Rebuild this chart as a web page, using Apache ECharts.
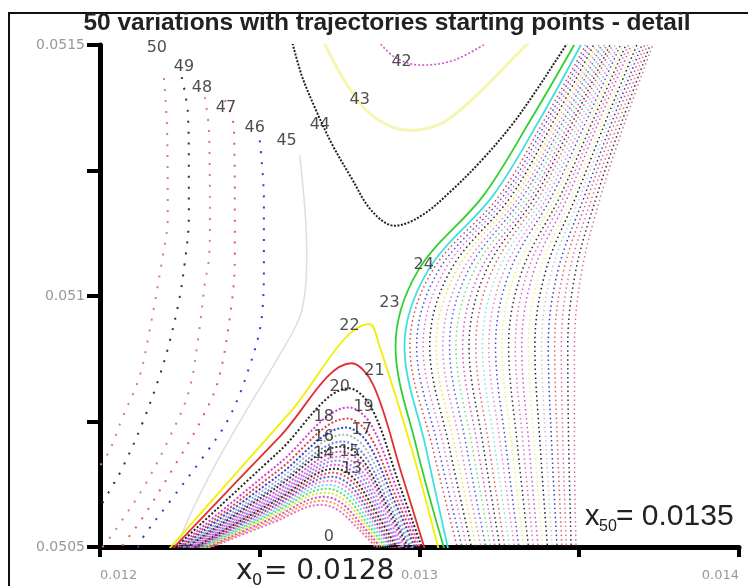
<!DOCTYPE html>
<html><head><meta charset="utf-8">
<script src="https://cdn.jsdelivr.net/npm/echarts@6/dist/echarts.min.js"></script>
<style>html,body{margin:0;padding:0;background:#fff}#c{width:748px;height:586px}</style>
</head><body><div id="c"></div>
<script>
// ---------- data ----------
const xTickLabels = [0.012, 0.013, 0.014];
const yTickLabels = [0.0505, 0.051, 0.0515];

// trajectories 0..22 (lower arches)
const archCurves = [
 [[0.01233,0.050495],[0.012546,0.05055],[0.01269,0.050584],[0.012744,0.050574],[0.012812,0.050534],[0.01287,0.050495]],
 [[0.012325,0.050495],[0.012547,0.050555],[0.012695,0.050592],[0.01275,0.050581],[0.012819,0.050537],[0.012877,0.050495]],
 [[0.01232,0.050495],[0.012548,0.05056],[0.0127,0.0506],[0.012755,0.050588],[0.012825,0.05054],[0.012884,0.050495]],
 [[0.012315,0.050495],[0.012549,0.050565],[0.012705,0.050608],[0.012761,0.050595],[0.012832,0.050543],[0.012891,0.050495]],
 [[0.01231,0.050495],[0.01255,0.05057],[0.01271,0.050616],[0.012766,0.050602],[0.012838,0.050546],[0.012898,0.050495]],
 [[0.012305,0.050495],[0.012551,0.050574],[0.012715,0.050624],[0.012772,0.050609],[0.012844,0.05055],[0.012905,0.050495]],
 [[0.0123,0.050495],[0.012552,0.050579],[0.01272,0.050632],[0.012778,0.050616],[0.012851,0.050553],[0.012912,0.050495]],
 [[0.012295,0.050495],[0.012553,0.050584],[0.012725,0.05064],[0.012783,0.050623],[0.012857,0.050556],[0.012919,0.050495]],
 [[0.01229,0.050495],[0.012554,0.050589],[0.01273,0.050648],[0.012789,0.05063],[0.012863,0.050559],[0.012926,0.050495]],
 [[0.012285,0.050495],[0.012555,0.050594],[0.012735,0.050656],[0.012794,0.050637],[0.01287,0.050562],[0.012933,0.050495]],
 [[0.01228,0.050495],[0.012556,0.050598],[0.01274,0.050664],[0.0128,0.050644],[0.012876,0.050566],[0.01294,0.050495]],
 [[0.012275,0.050495],[0.012557,0.050603],[0.012745,0.050672],[0.012806,0.050651],[0.012882,0.050569],[0.012947,0.050495]],
 [[0.01227,0.050495],[0.012558,0.050608],[0.01275,0.05068],[0.012811,0.050658],[0.012889,0.050572],[0.012954,0.050495]],
 [[0.012265,0.050495],[0.012559,0.050614],[0.012755,0.05069],[0.012817,0.050667],[0.012895,0.050576],[0.012961,0.050495]],
 [[0.01226,0.050495],[0.012557,0.05062],[0.012755,0.0507],[0.012819,0.050676],[0.0129,0.05058],[0.012968,0.050495]],
 [[0.012255,0.050495],[0.012558,0.050626],[0.01276,0.05071],[0.012825,0.050685],[0.012906,0.050584],[0.012975,0.050495]],
 [[0.01225,0.050495],[0.012559,0.050634],[0.012765,0.050724],[0.01283,0.050697],[0.012913,0.05059],[0.012982,0.050495]],
 [[0.012245,0.050495],[0.01256,0.050643],[0.01277,0.050738],[0.012836,0.050709],[0.012919,0.050595],[0.012989,0.050495]],
 [[0.01224,0.050495],[0.012561,0.050654],[0.012775,0.050756],[0.012841,0.050725],[0.012925,0.050602],[0.012996,0.050495]],
 [[0.012235,0.050495],[0.012562,0.050667],[0.01278,0.050778],[0.012847,0.050745],[0.012932,0.050611],[0.013003,0.050495]],
 [[0.01223,0.050495],[0.01256,0.05069],[0.01278,0.050816],[0.012849,0.050778],[0.012936,0.050626],[0.01301,0.050495]],
 [[0.012225,0.050495],[0.012563,0.05072],[0.012788,0.050866],[0.012856,0.050822],[0.012944,0.050646],[0.013017,0.050495]],
 [[0.012215,0.050495],[0.012592,0.050766],[0.012844,0.050944],[0.012873,0.050904],[0.012975,0.050696],[0.01306,0.050495]]
];

// trajectories 23..50 rising through the right-hand fan: x read at these y levels
const fanLevels = [0.050495, 0.0507, 0.0509, 0.05105, 0.0512, 0.05135, 0.0515];
const fanX = [
 [0.013078,0.01299,0.012925,0.012995,0.0132,0.013347,0.013484],
 [0.01309,0.013019,0.012953,0.013026,0.01323,0.013375,0.013505],
 [0.01312,0.01304,0.01297,0.01304,0.01325,0.01339,0.01352],
 [0.013135,0.013058,0.012991,0.013059,0.013263,0.0134,0.013528],
 [0.01315,0.013076,0.013011,0.013077,0.013275,0.01341,0.013537],
 [0.013164,0.013093,0.013032,0.013096,0.013288,0.013421,0.013545],
 [0.013179,0.013111,0.013052,0.013115,0.013301,0.013431,0.013554],
 [0.013194,0.013129,0.013073,0.013134,0.013314,0.013441,0.013562],
 [0.013209,0.013147,0.013094,0.013152,0.013326,0.013451,0.01357],
 [0.013224,0.013165,0.013114,0.013171,0.013339,0.013461,0.013579],
 [0.013238,0.013182,0.013135,0.01319,0.013352,0.013472,0.013587],
 [0.013253,0.0132,0.013155,0.013208,0.013364,0.013482,0.013596],
 [0.013268,0.013218,0.013176,0.013227,0.013377,0.013492,0.013604],
 [0.013283,0.013236,0.013197,0.013246,0.01339,0.013502,0.013612],
 [0.013298,0.013254,0.013217,0.013264,0.013402,0.013512,0.013621],
 [0.013312,0.013271,0.013238,0.013283,0.013415,0.013523,0.013629],
 [0.013327,0.013289,0.013258,0.013302,0.013428,0.013533,0.013638],
 [0.013342,0.013307,0.013279,0.013321,0.013441,0.013543,0.013646],
 [0.013357,0.013325,0.0133,0.013339,0.013453,0.013553,0.013654],
 [0.013372,0.013343,0.01332,0.013358,0.013466,0.013563,0.013663],
 [0.013386,0.01336,0.013341,0.013377,0.013479,0.013574,0.013671],
 [0.013401,0.013378,0.013361,0.013395,0.013491,0.013584,0.01368],
 [0.013416,0.013396,0.013382,0.013414,0.013504,0.013594,0.013688],
 [0.013431,0.013414,0.013403,0.013433,0.013517,0.013604,0.013696],
 [0.013446,0.013432,0.013423,0.013451,0.013529,0.013614,0.013705],
 [0.01346,0.013449,0.013444,0.01347,0.013542,0.013625,0.013713],
 [0.013475,0.013467,0.013464,0.013489,0.013555,0.013635,0.013722],
 [0.01349,0.013485,0.013485,0.013508,0.013568,0.013645,0.01373]
];

// re-entering parts of trajectories 42..50 (top / left)
const upperIds = [42, 43, 44, 45, 46, 47, 48, 49, 50];
const upperCurves = [
 [[0.012863,0.051514],[0.012922,0.051476],[0.013006,0.05146],[0.013109,0.05147],[0.013225,0.05151]],
 [[0.012694,0.051514],[0.012778,0.051416],[0.012859,0.051356],[0.012966,0.05133],[0.013069,0.051344],[0.013172,0.051396],[0.013297,0.051476],[0.013356,0.051514]],
 [[0.0126,0.05151],[0.012631,0.05144],[0.012672,0.051376],[0.012725,0.051304],[0.012788,0.051234],[0.01285,0.05117],[0.012922,0.05114],[0.013006,0.05116],[0.0131,0.05121],[0.013194,0.05127],[0.013288,0.05134],[0.013366,0.05141],[0.013428,0.05147],[0.013469,0.05151]],
 [[0.012625,0.05128],[0.012647,0.05109],[0.012631,0.05097],[0.012569,0.05089],[0.012475,0.05079],[0.012366,0.05067],[0.012272,0.05055],[0.012241,0.050494]],
 [[0.0125,0.05131],[0.012513,0.05119],[0.012513,0.05107],[0.012506,0.050956],[0.012466,0.050856],[0.012403,0.050756],[0.012319,0.050676],[0.012225,0.050596],[0.012131,0.050516],[0.012116,0.050494]],
 [[0.012391,0.05139],[0.012419,0.051336],[0.012422,0.051156],[0.012422,0.051084],[0.012413,0.05099],[0.012372,0.050836],[0.012319,0.050756],[0.012247,0.050676],[0.012131,0.050556],[0.012078,0.05051],[0.012059,0.050494]],
 [[0.012328,0.051396],[0.012341,0.05133],[0.012344,0.051156],[0.012341,0.051076],[0.012328,0.051024],[0.012309,0.050924],[0.012278,0.05081],[0.012216,0.050716],[0.012141,0.050624],[0.012059,0.050544],[0.012028,0.050516],[0.011995,0.05049]],
 [[0.012256,0.051436],[0.012275,0.051364],[0.012278,0.051264],[0.012278,0.051156],[0.012266,0.05107],[0.012247,0.05099],[0.012216,0.050904],[0.012184,0.050836],[0.012131,0.050744],[0.012069,0.050656],[0.012028,0.05061],[0.011991,0.05057]],
 [[0.0122,0.051434],[0.01221,0.05133],[0.012212,0.051156],[0.012194,0.05107],[0.012153,0.050924],[0.012122,0.050836],[0.012069,0.050756],[0.012028,0.05069],[0.011975,0.05064]]
];

const curveColors = [
 '#e86ac8','#f0a050','#d050d0','#e8e040','#60e060','#60e0e0','#f080c0','#5060e0','#e05050','#303030',
 '#d060e0','#8090f0','#e878c8','#c050d0','#333333','#7080e0','#b0b0b0','#3040d0','#e04040','#d040d0',
 '#222222','#e03030','#f0f000','#30d030','#40e0e0','#e04040','#4050e0','#e070d0','#222222','#f0e040',
 '#e080c0','#5060e0','#70e070','#d050d0','#303030','#e06060','#80e0e0','#e880d0','#4050d0','#f0f060',
 '#333333','#e070c0','#d050d0','#f0f080','#222222','#c8c8c8','#3040c0','#e06060','#e070b0','#333333',
 '#e070b0'
];

const labelTexts = ['0','13','14','15','16','17','18','19','20','21','22','23','24','42','43','44','45','46','47','48','49','50'];
const labelPoints = [
 [0.012716,0.05052],[0.012788,0.050656],[0.0127,0.050686],[0.012781,0.05069],[0.0127,0.05072],[0.012819,0.050734],
 [0.0127,0.05076],[0.012825,0.05078],[0.01275,0.05082],[0.012859,0.05085],[0.012781,0.05094],[0.012906,0.050986],
 [0.013013,0.051062],[0.012944,0.051466],[0.012813,0.05139],[0.012688,0.05134],[0.012584,0.05131],[0.012484,0.051334],
 [0.012394,0.051374],[0.012319,0.051414],[0.012263,0.051456],[0.012178,0.051494]
];

// ---------- styles ----------
function styleFor(id, part) {
  const c = curveColors[id];
  if (id === 21 || id === 22 || id === 23 || id === 24) return {color: c, width: 1.8, type: 'solid'};
  if (part === 'upper') {
    if (id === 42) return {color: c, width: 1.6, type: [2, 2]};
    if (id === 43) return {color: c, width: 3, type: 'solid', opacity: 0.6};
    if (id === 44) return {color: c, width: 2, type: [2, 1.5]};
    if (id === 45) return {color: c, width: 1.5, type: 'solid', opacity: 0.6};
    return {color: c, width: 2, type: [2, 9]};
  }
  if (part === 'arch') return {color: c, width: 2, type: [2, 2]};
  return {color: c, width: 1.5, type: [1.5, 3]};
}

const series = [];
archCurves.forEach((pts, i) => {
  series.push({type: 'line', data: pts, smooth: 0.35, symbol: 'none', silent: true, clip: true,
    lineStyle: styleFor(i, 'arch'), z: 3});
});
fanX.forEach((xs, j) => {
  const id = 23 + j;
  series.push({type: 'line', data: xs.map((x, k) => [x, fanLevels[k]]), smooth: 0.35, symbol: 'none',
    silent: true, clip: true, lineStyle: styleFor(id, 'fan'), z: 2});
});
upperCurves.forEach((pts, j) => {
  const id = upperIds[j];
  series.push({type: 'line', data: pts, smooth: 0.35, symbol: 'none', silent: true, clip: true,
    lineStyle: styleFor(id, 'upper'), z: 2});
});

const labelFont = '"DejaVu Sans", Verdana, sans-serif';
const fontFam = '"Liberation Sans", Arial, sans-serif';
series.push({
  type: 'scatter', data: labelPoints, symbolSize: 1, itemStyle: {color: 'rgba(0,0,0,0)'}, silent: true, z: 10,
  label: {show: true, position: 'inside', color: '#222', fontSize: 16, fontFamily: labelFont,
    formatter: p => labelTexts[p.dataIndex]}
});

function txt(x, y, text, font) {
  return {type: 'text', silent: true, z: 100, x: x, y: y,
    style: {text: text, fill: '#222', font: font, align: 'left', verticalAlign: 'middle',
      textAlign: 'left', textVerticalAlign: 'middle'}};
}

const chart = echarts.init(document.getElementById('c'), null, {renderer: 'canvas'});
chart.setOption({
  animation: false,
  backgroundColor: '#fff',
  grid: {left: 100, right: 9, top: 45, bottom: 39},
  xAxis: {
    type: 'value', min: 0.012, max: 0.014, interval: 0.0005,
    axisLine: {onZero: false, lineStyle: {color: '#000', width: 5}},
    axisTick: {length: 10, lineStyle: {color: '#000', width: 4}},
    splitLine: {show: false},
    axisLabel: {color: '#999', fontSize: 13, fontFamily: labelFont, margin: 22,
      alignMinLabel: 'left', alignMaxLabel: 'right',
      formatter: v => {
        const hit = xTickLabels.find(t => Math.abs(t - v) < 1e-9);
        return hit !== undefined ? String(hit) : '';
      }}
  },
  yAxis: {
    type: 'value', min: 0.0505, max: 0.0515, interval: 0.00025,
    axisLine: {onZero: false, lineStyle: {color: '#000', width: 5}},
    axisTick: {length: 13, lineStyle: {color: '#000', width: 4}},
    splitLine: {show: false},
    axisLabel: {color: '#999', fontSize: 14, fontFamily: labelFont, margin: 15,
      formatter: v => {
        const hit = yTickLabels.find(t => Math.abs(t - v) < 1e-9);
        return hit !== undefined ? String(hit) : '';
      }}
  },
  series: series,
  graphic: [
    {type: 'rect', silent: true, z: 100, shape: {x: 9, y: 13, width: 800, height: 640},
      style: {fill: 'none', stroke: '#111', lineWidth: 2}},
    {type: 'text', silent: true, z: 100, x: 387, y: 23,
      style: {text: '50 variations with trajectories starting points - detail', fill: '#222',
        font: 'bold 24.5px ' + fontFam, align: 'center', verticalAlign: 'middle',
        textAlign: 'center', textVerticalAlign: 'middle'}},
    txt(236, 572, 'x', '28px ' + labelFont),
    txt(252, 581, '0', '16px ' + labelFont),
    txt(264, 572, '= 0.0128', '28px ' + labelFont),
    txt(585, 517, 'x', '29px ' + fontFam),
    txt(599, 527, '50', '16px ' + fontFam),
    txt(616, 517, '= 0.0135', '30px ' + fontFam)
  ]
});
</script>
</body></html>
